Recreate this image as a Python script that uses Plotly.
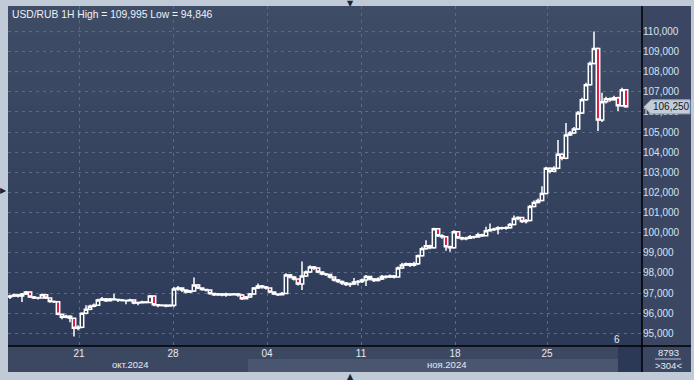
import plotly.graph_objects as go

# ---------------- data ----------------
opens = [96.80, 96.86, 96.90, 96.85, 96.95, 97.05, 96.80, 96.76, 96.75, 96.92,
         96.75, 96.58, 96.57, 95.95, 95.80, 95.85, 95.75, 95.25, 95.30, 96.00,
         96.20, 96.35, 96.40, 96.65, 96.70, 96.62, 96.70, 96.68, 96.66, 96.63,
         96.62, 96.65, 96.50, 96.52, 96.55, 96.53, 96.85, 96.42, 96.38, 96.40,
         96.36, 96.40, 97.20, 97.25, 97.15, 97.05, 97.10, 97.40, 97.25, 97.18,
         97.15, 96.98, 96.92, 96.95, 96.90, 96.95, 96.92, 96.95, 96.90, 96.72,
         96.80, 96.95, 97.25, 97.35, 97.30, 97.25, 97.05, 96.95, 96.92, 96.98,
         97.90, 97.80, 97.70, 97.45, 97.85, 98.05, 98.30, 98.25, 98.05, 97.95,
         97.92, 97.80, 97.65, 97.58, 97.50, 97.42, 97.45, 97.55, 97.58, 97.65,
         97.82, 97.70, 97.62, 97.70, 97.82, 97.80, 97.85, 97.80, 98.25, 98.40,
         98.45, 98.38, 98.45, 98.85, 99.20, 99.35, 99.25, 100.20, 99.85, 99.80,
         99.30, 99.25, 100.05, 99.75, 99.70, 99.72, 99.80, 99.78, 99.90, 99.85,
         100.10, 100.15, 100.18, 100.25, 100.22, 100.25, 100.40, 100.70, 100.75, 100.55,
         100.60, 101.30, 101.50, 101.60, 101.95, 103.20, 103.05, 103.20, 103.90, 103.70,
         104.85, 104.95, 105.15, 105.95, 106.60, 107.35, 108.40, 109.15, 105.60, 106.50,
         106.65, 106.60, 106.70, 106.30, 107.10]
highs = [96.92, 96.98, 96.95, 97.00, 97.10, 97.08, 96.85, 96.82, 96.98, 96.95,
         96.78, 96.63, 96.60, 95.98, 95.92, 95.90, 95.78, 95.40, 96.05, 96.40,
         96.42, 96.48, 96.72, 96.80, 96.75, 96.75, 96.96, 96.72, 96.70, 96.68,
         96.72, 96.68, 96.58, 96.62, 96.60, 96.90, 96.88, 96.46, 96.45, 96.44,
         96.45, 97.30, 97.35, 97.28, 97.18, 97.15, 97.77, 97.45, 97.28, 97.22,
         97.18, 97.02, 97.00, 97.00, 97.02, 96.98, 97.00, 97.00, 96.95, 96.86,
         97.00, 97.30, 97.48, 97.40, 97.35, 97.28, 97.08, 96.98, 97.05, 97.98,
         97.95, 97.85, 97.72, 98.57, 98.12, 98.38, 98.35, 98.28, 98.08, 98.00,
         97.95, 97.82, 97.70, 97.62, 97.55, 97.52, 97.75, 97.65, 97.72, 97.90,
         97.85, 97.75, 97.78, 97.90, 97.88, 97.92, 97.90, 98.32, 98.50, 98.52,
         98.50, 98.55, 98.92, 99.30, 99.62, 99.40, 100.25, 100.22, 99.92, 99.82,
         99.35, 100.12, 100.08, 99.80, 99.80, 99.88, 99.85, 99.98, 99.95, 100.30,
         100.45, 100.25, 100.32, 100.30, 100.32, 100.48, 100.85, 100.82, 100.78, 100.68,
         101.38, 101.60, 101.70, 102.30, 103.28, 103.25, 103.30, 104.60, 103.95, 105.45,
         105.05, 105.25, 106.05, 106.70, 107.45, 108.50, 109.995, 109.20, 106.95, 106.75,
         106.72, 106.80, 106.75, 107.20, 107.12]
lows = [96.70, 96.80, 96.78, 96.55, 96.90, 96.75, 96.70, 96.68, 96.72, 96.70,
        96.52, 96.50, 95.90, 95.70, 95.75, 95.55, 94.846, 95.15, 95.25, 95.95,
        96.15, 96.30, 96.38, 96.60, 96.55, 96.58, 96.62, 96.55, 96.58, 96.45,
        96.58, 96.45, 96.40, 96.48, 96.48, 96.50, 96.35, 96.30, 96.33, 96.30,
        96.32, 96.30, 97.12, 97.05, 96.98, 97.00, 97.05, 97.20, 97.12, 97.08,
        96.92, 96.86, 96.85, 96.84, 96.82, 96.85, 96.88, 96.82, 96.66, 96.68,
        96.75, 96.90, 97.20, 97.22, 97.18, 97.00, 96.90, 96.86, 96.88, 96.95,
        97.72, 97.62, 97.38, 97.15, 97.80, 98.00, 98.15, 97.98, 97.88, 97.85,
        97.72, 97.58, 97.50, 97.40, 97.35, 97.30, 97.40, 97.38, 97.50, 97.35,
        97.62, 97.55, 97.58, 97.65, 97.72, 97.75, 97.72, 97.76, 98.20, 98.35,
        98.30, 98.32, 98.40, 98.80, 99.15, 99.18, 99.20, 99.78, 99.70, 99.10,
        99.05, 99.20, 99.68, 99.62, 99.62, 99.68, 99.70, 99.75, 99.78, 99.82,
        100.05, 100.08, 99.92, 100.15, 100.15, 100.20, 100.35, 100.62, 100.48, 100.45,
        100.55, 101.25, 101.45, 101.55, 101.90, 102.95, 103.00, 103.15, 103.60, 103.65,
        104.80, 104.90, 105.10, 105.90, 106.55, 107.30, 108.35, 105.05, 105.50, 106.42,
        106.50, 106.55, 106.05, 106.25, 106.20]
closes = [96.86, 96.90, 96.85, 96.95, 97.05, 96.80, 96.76, 96.75, 96.92, 96.75,
          96.58, 96.57, 95.95, 95.80, 95.85, 95.75, 95.25, 95.30, 96.00, 96.20,
          96.35, 96.40, 96.65, 96.70, 96.62, 96.70, 96.68, 96.66, 96.63, 96.62,
          96.65, 96.50, 96.52, 96.55, 96.53, 96.85, 96.42, 96.38, 96.40, 96.36,
          96.40, 97.20, 97.25, 97.15, 97.05, 97.10, 97.40, 97.25, 97.18, 97.15,
          96.98, 96.92, 96.95, 96.90, 96.95, 96.92, 96.95, 96.90, 96.72, 96.80,
          96.95, 97.25, 97.35, 97.30, 97.25, 97.05, 96.95, 96.92, 96.98, 97.90,
          97.80, 97.70, 97.45, 97.85, 98.05, 98.30, 98.25, 98.05, 97.95, 97.92,
          97.80, 97.65, 97.58, 97.50, 97.42, 97.45, 97.55, 97.58, 97.65, 97.82,
          97.70, 97.62, 97.70, 97.82, 97.80, 97.85, 97.80, 98.25, 98.40, 98.45,
          98.38, 98.45, 98.85, 99.20, 99.35, 99.25, 100.20, 99.85, 99.80, 99.30,
          99.25, 100.05, 99.75, 99.70, 99.72, 99.80, 99.78, 99.90, 99.85, 100.10,
          100.15, 100.18, 100.25, 100.22, 100.25, 100.40, 100.70, 100.75, 100.55, 100.60,
          101.30, 101.50, 101.60, 101.95, 103.20, 103.05, 103.20, 103.90, 103.70, 104.85,
          104.95, 105.15, 105.95, 106.60, 107.35, 108.40, 109.15, 105.60, 106.50, 106.65,
          106.60, 106.70, 106.30, 107.10, 106.25]

week_tick_pos = [17.25, 40.75, 64.25, 87.75, 111.25, 134.25]
week_tick_text = ["21", "28", "04", "11", "18", "25"]
month_label_text = ["окт.2024", "ноя.2024"]
month_label_pos = [30.0, 109.0]
price_tick_vals = [95, 96, 97, 98, 99, 100, 101, 102, 103, 104, 105, 106, 107, 108, 109, 110]
price_tick_text = ["95,000", "96,000", "97,000", "98,000", "99,000", "100,000", "101,000",
                   "102,000", "103,000", "104,000", "105,000", "106,000", "107,000",
                   "108,000", "109,000", "110,000"]
title_text = "USD/RUB 1H High = 109,995 Low = 94,846"
footer_top = "8793"
footer_bottom = ">304<"
corner_label = "6"

# ---------------- geometry helpers ----------------
W, H = 694, 380
PL, PR, PT, PB = 8, 642, 6, 346          # plot area in pixels
Y_RANGE = [94.37, 111.26]


def px(x):
    return (x - PL) / (PR - PL)


def py(y):
    return (PB - y) / (PB - PT)


def esc(s):
    return s.replace("&", "&amp;").replace("<", "&lt;").replace(">", "&gt;")


FONT = "Liberation Sans"
x_idx = list(range(len(closes)))

fig = go.Figure()
fig.add_trace(go.Candlestick(
    x=x_idx, open=opens, high=highs, low=lows, close=closes,
    increasing=dict(line=dict(color="#ffffff", width=1.5), fillcolor="rgba(0,0,0,0)"),
    decreasing=dict(line=dict(color="#ffffff", width=1.5), fillcolor="#e3123f"),
    whiskerwidth=0, hoverinfo="skip", showlegend=False,
))

shapes = []
# vertical gradient of the plot background
top_c = (63, 76, 102)
bot_c = (44, 58, 88)
nb = 34
for k in range(nb):
    t = (k + 0.5) / nb
    c = tuple(int(round(top_c[j] + (bot_c[j] - top_c[j]) * t)) for j in range(3))
    shapes.append(dict(type="rect", xref="paper", yref="paper", layer="below",
                       x0=0, x1=1, y0=1 - (k + 1) / nb, y1=1 - k / nb,
                       line=dict(width=0), fillcolor="rgb(%d,%d,%d)" % c))
# right axis panel
shapes.append(dict(type="rect", xref="paper", yref="paper", layer="below",
                   x0=px(PR), x1=px(691), y0=py(372), y1=py(PT),
                   line=dict(width=0), fillcolor="#3b4762"))
# bottom axis panel
shapes.append(dict(type="rect", xref="paper", yref="paper", layer="below",
                   x0=px(PL), x1=px(PR), y0=py(372), y1=py(PB),
                   line=dict(width=0), fillcolor="#3c4862"))
# november band
shapes.append(dict(type="rect", xref="paper", yref="paper", layer="below",
                   x0=px(248), x1=px(618), y0=py(372), y1=py(359),
                   line=dict(width=0), fillcolor="#4a566f"))
# dark box bottom right of time axis
shapes.append(dict(type="rect", xref="paper", yref="paper", layer="below",
                   x0=px(618), x1=px(PR), y0=py(372), y1=py(PB),
                   line=dict(width=0), fillcolor="#2c3956"))
# separator lines
shapes.append(dict(type="line", xref="paper", yref="paper", layer="above",
                   x0=px(PL), x1=px(691), y0=0, y1=0,
                   line=dict(color="#000000", width=1.5)))
shapes.append(dict(type="line", xref="paper", yref="paper", layer="above",
                   x0=1, x1=1, y0=py(372), y1=1,
                   line=dict(color="#000000", width=1.5)))
# rule under footer number
shapes.append(dict(type="line", xref="paper", yref="paper", layer="above",
                   x0=px(655), x1=px(681), y0=py(359), y1=py(359),
                   line=dict(color="#b8c4d6", width=1)))

# current price tag (arrow box)
last = closes[-1]
half = 7 / ((PB - PT) / (Y_RANGE[1] - Y_RANGE[0]))
xt, xb, xr = px(644), px(651), px(690)
shapes.append(dict(type="path", xref="paper", yref="y", layer="above",
                   path="M %f,%f L %f,%f L %f,%f L %f,%f L %f,%f Z" % (
                       xt, last, xb, last + half, xr, last + half, xr, last - half, xb, last - half),
                   line=dict(color="#9aa6b6", width=1), fillcolor="#c4ccd7"))

annotations = []
annotations.append(dict(text=title_text, xref="paper", yref="paper", x=px(10), y=py(14.5),
                        xanchor="left", yanchor="middle", showarrow=False,
                        font=dict(family=FONT, size=10.3, color="#eef2f8")))
for t, p in zip(month_label_text, month_label_pos):
    annotations.append(dict(text=t, xref="x", yref="paper", x=p, y=py(364.5),
                            xanchor="center", yanchor="middle", showarrow=False,
                            font=dict(family=FONT, size=9.5, color="#e4eaf3")))
annotations.append(dict(text=("%.3f" % last).replace(".", ","), xref="paper", yref="y",
                        x=px(671), y=last, xanchor="center", yanchor="middle", showarrow=False,
                        font=dict(family=FONT, size=10, color="#10182a")))
annotations.append(dict(text=esc(footer_top), xref="paper", yref="paper", x=px(668), y=py(352.5),
                        xanchor="center", yanchor="middle", showarrow=False,
                        font=dict(family=FONT, size=9.5, color="#e4eaf3")))
annotations.append(dict(text=esc(footer_bottom), xref="paper", yref="paper", x=px(668), y=py(365),
                        xanchor="center", yanchor="middle", showarrow=False,
                        font=dict(family=FONT, size=9.5, color="#e4eaf3")))
annotations.append(dict(text=corner_label, xref="paper", yref="paper", x=px(617), y=py(339),
                        xanchor="center", yanchor="middle", showarrow=False,
                        font=dict(family=FONT, size=10, color="#e4eaf3")))
for sym, xx, yy in (("▼", 350, 3), ("▲", 350, 377), ("▶", 3, 190)):
    annotations.append(dict(text=sym, xref="paper", yref="paper", x=px(xx), y=py(yy),
                            xanchor="center", yanchor="middle", showarrow=False,
                            font=dict(family="DejaVu Sans", size=8, color="#1b2436")))

fig.update_layout(
    width=W, height=H,
    margin=dict(l=PL, r=W - PR, t=PT, b=H - PB, pad=0),
    paper_bgcolor="#c1cad7",
    plot_bgcolor="rgba(0,0,0,0)",
    boxgap=0.15, boxgroupgap=0,
    shapes=shapes, annotations=annotations,
    showlegend=False,
    xaxis=dict(range=[-0.5, 158.0], tickmode="array", tickvals=week_tick_pos,
               ticktext=week_tick_text, showgrid=True, gridcolor="#5b6a86",
               griddash="3px,4px", gridwidth=1, zeroline=False, showline=False,
               ticks="", tickfont=dict(family=FONT, size=10, color="#e4eaf3"),
               rangeslider=dict(visible=False), fixedrange=True),
    yaxis=dict(side="right", range=Y_RANGE, tickmode="array",
               tickvals=price_tick_vals, ticktext=price_tick_text,
               showgrid=True, gridcolor="#5b6a86", griddash="3px,4px", gridwidth=1,
               zeroline=False, showline=False, ticks="",
               tickfont=dict(family=FONT, size=10, color="#d4e2f4"), fixedrange=True),
)

fig.write_html("out.html")
